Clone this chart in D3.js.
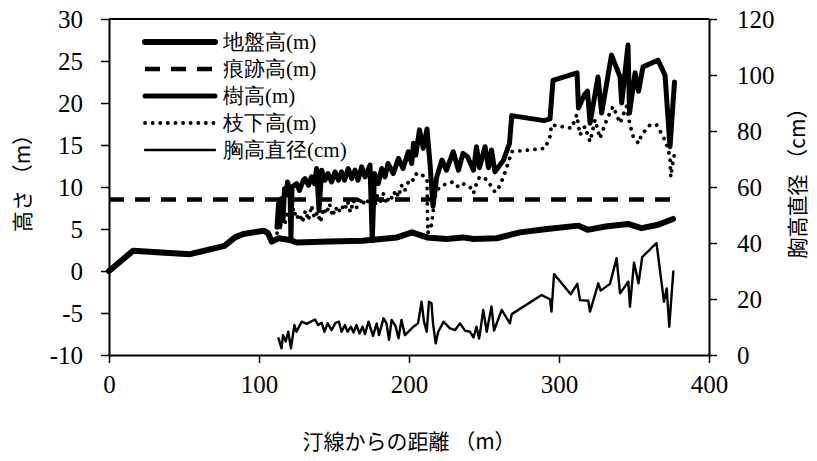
<!DOCTYPE html>
<html>
<head>
<meta charset="utf-8">
<script src="https://cdn.jsdelivr.net/npm/d3@7"></script>
<style>
  body { margin: 0; background: #fff; }
  svg { display: block; }
</style>
</head>
<body>
<script>
const width = 817;
const height = 461;

const groundHeight = [[0,0],[16,2.4],[54,2.0],[77,3.0],[84,4.0],[89.5,4.4],[103,4.8],[106,4.5],[108.5,3.5],[113,3.9],[120.7,3.7],[125,3.4],[147,3.5],[169,3.6],[192,4.0],[202,4.6],[212,4.0],[225,3.8],[236,4.0],[243,3.8],[258.5,3.9],[274,4.6],[292,5.0],[313,5.4],[319,4.9],[331,5.3],[346,5.6],[355,5.1],[366,5.5],[376,6.2]];

const traceHeight = [[0,8.5],[375,8.5]];

const treeHeight = [[112,5.2],[113,8.0],[114,5.4],[115,8.6],[116,6.0],[117,9.8],[118,9.0],[119,10.6],[120.7,9.6],[121.3,3.8],[122,10.0],[125,10.4],[127,9.6],[129.5,10.8],[130.7,11.0],[133,10.2],[135,11.2],[137,10.4],[138.4,12.2],[140,7.2],[141.8,12.0],[144,10.8],[146,11.6],[148.4,10.6],[150.7,11.8],[153,10.8],[155,11.8],[157,10.8],[159.5,12.2],[161.8,11.0],[164,12.0],[166,10.8],[168.4,12.4],[170.7,11.2],[174,12.6],[175.5,3.6],[177,11.6],[179.5,10.4],[181.8,12.2],[184,11.2],[186,12.8],[189.5,11.6],[193,13.4],[196,12.2],[199.5,14.2],[201.8,12.8],[203,15.2],[204.5,13.8],[207,16.8],[209.5,14.6],[212,16.9],[214,12.8],[216,7.7],[218.5,11.2],[222,13.2],[225,12.0],[229.5,14.2],[233,12.0],[236,14.0],[239,13.6],[243,12.0],[245,14.8],[247,12.3],[250.7,14.8],[253,12.3],[255,14.4],[257.3,11.8],[263,13.2],[267,15.2],[268.5,18.5],[290,17.9],[294,18.1],[296,22.7],[312,23.6],[313,19.4],[317,21.0],[319,21.4],[320.7,17.6],[326,23.1],[328.4,18.8],[335,25.7],[340.7,23.1],[341.8,20.0],[346,26.9],[347,18.8],[350.7,23.6],[353,21.4],[356,24.3],[366,25.1],[370.7,23.3],[374,14.8],[377,22.5]];

const branchHeight = [[112,4.5],[113,6.0],[114,5.0],[115,6.5],[117,5.5],[119,6.8],[121,5.8],[123,7.5],[125,6.2],[127,6.8],[129,5.8],[131,7.2],[133,6.0],[135,7.8],[137,6.3],[139,7.0],[141,5.8],[143,7.5],[145,6.8],[147,8.0],[149,6.5],[151,7.6],[153,6.9],[155,7.8],[157,7.2],[159,8.3],[161,7.0],[163,8.4],[165,7.5],[167,8.8],[169,7.8],[171,8.6],[173,8.2],[175,8.9],[177,7.6],[179,9.0],[181,8.3],[183,9.2],[185,8.0],[187,9.0],[189,8.6],[191,9.6],[193,8.8],[195,10.2],[197,9.5],[199,10.4],[201,11.0],[203,10.8],[205,11.6],[208,11.6],[210,11.2],[212,11.0],[212.5,4.5],[215,5.5],[216,7.0],[218,9.5],[220.7,10.0],[225,10.4],[229.5,10.6],[233,10.0],[236,10.4],[240.7,10.0],[243,9.25],[245,10.4],[247,11.2],[250.7,11.0],[253,10.6],[255,10.0],[257.3,9.4],[259.5,9.8],[263,11.2],[266,12.8],[268.5,14.2],[280,14.4],[290.7,14.6],[294,16.0],[295,17.4],[301.8,17.2],[308.4,17.0],[311.8,18.6],[314,16.2],[317.3,17.2],[320.7,15.4],[324,18.0],[327.3,15.8],[331.8,18.0],[336,19.6],[340.7,17.6],[345,19.6],[347.3,17.4],[349.5,16.0],[353,15.2],[355,16.2],[360.7,17.4],[365,17.4],[369.5,16.0],[371.8,15.0],[374,13.6],[374.5,11.2],[375.5,12.5],[377,14.0]];

// 胸高直径 (cm), right axis
const dbh = [[113,6.0],[115,2.4],[116,7.1],[117.8,4.8],[119.5,8.3],[121.3,2.4],[123.6,10.7],[125,8.3],[128.4,11.9],[131.8,11.1],[137.3,12.7],[139.5,10.7],[141.8,11.5],[143.6,8.3],[145.8,11.3],[148.4,8.9],[151,11.5],[153.3,11.9],[155,8.3],[157.3,10.7],[159,8.3],[161.3,10.1],[163,8.0],[165,10.7],[167,7.7],[169,10.1],[170.7,7.5],[173,11.9],[176,6.8],[178.5,11.3],[180,7.1],[183,13.1],[185,11.3],[186.7,5.4],[188.4,12.5],[191,10.4],[193,6.0],[195,12.5],[197.3,7.1],[203,10.1],[206,11.3],[208.4,19.0],[210,11.9],[211.8,8.3],[213.3,19.0],[215,18.5],[216,11.3],[217.8,4.2],[219.5,8.3],[223,11.9],[227.3,9.5],[230.7,8.9],[234,11.3],[237.3,8.7],[240.7,8.3],[243,6.3],[245,10.1],[246.7,5.9],[247.3,7.7],[249.5,16.1],[251.8,8.3],[255,17.3],[256.7,8.7],[261.8,16.1],[267.3,11.3],[268.5,14.6],[288.4,21.4],[294,19.9],[295,15.5],[296.7,28.9],[307.8,21.7],[312.2,25.4],[314,19.6],[319.5,19.4],[320.7,15.5],[326.2,25.6],[327.8,23.0],[334,25.4],[338.4,34.6],[340.7,22.0],[346.2,26.2],[347.3,17.3],[350,33.0],[353,25.6],[355.5,35.0],[365,40.0],[370,19.0],[371.8,23.8],[373.5,10.1],[376.2,29.8]];

const xTicks = [0, 100, 200, 300, 400];
const yLeftTicks = [-10, -5, 0, 5, 10, 15, 20, 25, 30];
const yRightTicks = [0, 20, 40, 60, 80, 100, 120];
const legendLabels = ["地盤高(m)", "痕跡高(m)", "樹高(m)", "枝下高(m)", "胸高直径(cm)"];

const plot = {left: 109, right: 709, top: 19, bottom: 355};
const serifFont = "Liberation Serif";
const titleFont = "Noto Sans CJK JP";

const x = d3.scaleLinear().domain([0, 400]).range([plot.left, plot.right]);
const yL = d3.scaleLinear().domain([-10, 30]).range([plot.bottom, plot.top]);
const yR = d3.scaleLinear().domain([0, 120]).range([plot.bottom, plot.top]);

const svg = d3.select("body").append("svg")
    .attr("width", width)
    .attr("height", height);

const styles = [
    {width: 6, dash: null, cap: "round"},
    {width: 4.5, dash: "15,11", cap: "butt"},
    {width: 5, dash: null, cap: "round"},
    {width: 3.8, dash: "0.1,7.5", cap: "round"},
    {width: 2.4, dash: null, cap: "round"}
];

const lineL = d3.line().x(d => x(d[0])).y(d => yL(d[1]));
const lineR = d3.line().x(d => x(d[0])).y(d => yR(d[1]));

const series = [
    {data: groundHeight, line: lineL},
    {data: traceHeight, line: lineL},
    {data: treeHeight, line: lineL},
    {data: branchHeight, line: lineL},
    {data: dbh, line: lineR}
];

// dbh first, tree height on top
[4, 3, 1, 0, 2].forEach(i => {
    const s = series[i], st = styles[i];
    svg.append("path")
        .datum(s.data)
        .attr("fill", "none")
        .attr("stroke", "#000")
        .attr("stroke-width", st.width)
        .attr("stroke-linejoin", "round")
        .attr("stroke-linecap", st.cap)
        .attr("stroke-dasharray", st.dash)
        .attr("d", s.line);
});

svg.append("line")
    .attr("x1", plot.left).attr("x2", plot.right)
    .attr("y1", plot.top).attr("y2", plot.top)
    .attr("stroke", "#000").attr("stroke-width", 2);

function styleAxis(g) {
    g.attr("font-family", serifFont).attr("font-size", 25);
    g.select(".domain").attr("stroke-width", 2);
    g.selectAll(".tick line").attr("stroke-width", 1.5);
    g.selectAll(".tick text")
        .attr("fill", "#000")
        .attr("font-family", serifFont);
}

svg.append("g")
    .attr("transform", `translate(0,${plot.bottom})`)
    .call(d3.axisBottom(x).tickValues(xTicks).tickSize(8).tickSizeOuter(0).tickPadding(12))
    .call(styleAxis);

svg.append("g")
    .attr("transform", `translate(${plot.left},0)`)
    .call(d3.axisLeft(yL).tickValues(yLeftTicks).tickFormat(d => String(d)).tickSize(8).tickSizeOuter(0).tickPadding(18))
    .call(styleAxis);

svg.append("g")
    .attr("transform", `translate(${plot.right},0)`)
    .call(d3.axisRight(yR).tickValues(yRightTicks).tickSize(8).tickSizeOuter(0).tickPadding(20))
    .call(styleAxis);

// legend
const legend = svg.append("g");
legendLabels.forEach((label, i) => {
    const ly = 42 + i * 27;
    const st = styles[i];
    legend.append("line")
        .attr("x1", 145).attr("x2", 215)
        .attr("y1", ly).attr("y2", ly)
        .attr("stroke", "#000")
        .attr("stroke-width", st.width)
        .attr("stroke-linecap", st.cap)
        .attr("stroke-dasharray", st.dash);
    legend.append("text")
        .attr("x", 223).attr("y", ly)
        .attr("dominant-baseline", "central")
        .attr("font-family", serifFont)
        .attr("font-size", 21)
        .text(label);
});

svg.append("text")
    .attr("transform", "translate(21,178) rotate(-90)")
    .attr("text-anchor", "middle")
    .attr("dominant-baseline", "central")
    .attr("font-family", titleFont)
    .attr("font-size", 21)
    .text("高さ （m）");

svg.append("text")
    .attr("transform", "translate(796,178) rotate(-90)")
    .attr("text-anchor", "middle")
    .attr("dominant-baseline", "central")
    .attr("font-family", titleFont)
    .attr("font-size", 21)
    .text("胸高直径 （cm）");

svg.append("text")
    .attr("x", 409).attr("y", 440)
    .attr("text-anchor", "middle")
    .attr("dominant-baseline", "central")
    .attr("font-family", titleFont)
    .attr("font-size", 21)
    .text("汀線からの距離 （m）");
</script>
</body>
</html>
